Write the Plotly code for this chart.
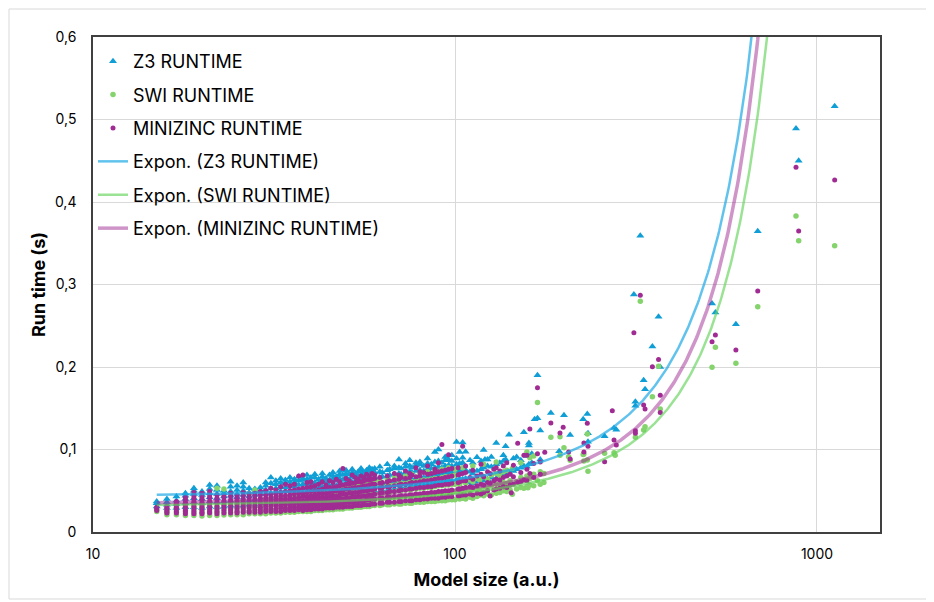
import numpy as np
import plotly.graph_objects as go

# ---------------- data (model size, [run times]) ----------------
Z3_COLUMNS = [
    (15, [0.031, 0.035, 0.037]), (16, [0.029, 0.033, 0.036, 0.040]), (17, [0.029, 0.034, 0.038, 0.043]),
    (18, [0.030, 0.035, 0.040, 0.044, 0.047]), (19, [0.030, 0.036, 0.041, 0.046, 0.050, 0.053]),
    (20, [0.029, 0.035, 0.040, 0.045, 0.049]), (21, [0.031, 0.037, 0.042, 0.047, 0.052, 0.057]),
    (22, [0.030, 0.036, 0.041, 0.046, 0.051, 0.056]), (23, [0.031, 0.037, 0.043, 0.047, 0.050]),
    (24, [0.032, 0.038, 0.044, 0.049, 0.055, 0.061]), (25, [0.031, 0.037, 0.042, 0.046, 0.051, 0.056]),
    (26, [0.032, 0.039, 0.045, 0.050, 0.055, 0.060]), (27, [0.033, 0.038, 0.043, 0.048, 0.053]),
    (28, [0.032, 0.039, 0.045, 0.049, 0.052]), (29, [0.033, 0.040, 0.046, 0.050, 0.054]),
    (30, [0.034, 0.041, 0.046, 0.051, 0.056, 0.060]), (31, [0.034, 0.041, 0.047, 0.053, 0.059, 0.066]),
    (32, [0.035, 0.042, 0.048, 0.053, 0.058, 0.062]), (33, [0.035, 0.042, 0.049, 0.055, 0.060, 0.065]),
    (34, [0.036, 0.043, 0.049, 0.054, 0.059, 0.063]), (35, [0.036, 0.044, 0.050, 0.056, 0.061, 0.066]),
    (36, [0.037, 0.044, 0.050, 0.055, 0.060, 0.064]), (37, [0.037, 0.045, 0.051, 0.057, 0.062, 0.067]),
    (38, [0.038, 0.045, 0.052, 0.058, 0.063, 0.065]), (39, [0.038, 0.046, 0.053, 0.059, 0.064, 0.069]),
    (40, [0.039, 0.046, 0.052, 0.057, 0.061, 0.066]), (41, [0.039, 0.047, 0.054, 0.060, 0.066, 0.070]),
    (42, [0.040, 0.047, 0.053, 0.059, 0.064]), (43, [0.040, 0.048, 0.055, 0.062, 0.067, 0.071]),
    (44, [0.041, 0.048, 0.054, 0.060, 0.065]), (45, [0.041, 0.049, 0.056, 0.063, 0.069]),
    (46, [0.042, 0.050, 0.057, 0.064, 0.068, 0.072]), (47, [0.042, 0.050, 0.056, 0.062, 0.067]),
    (48, [0.043, 0.051, 0.058, 0.065, 0.070, 0.074]), (49, [0.043, 0.051, 0.057, 0.063, 0.069]),
    (50, [0.044, 0.052, 0.059, 0.066, 0.071, 0.075]), (51, [0.044, 0.052, 0.058, 0.064, 0.070]),
    (52, [0.045, 0.053, 0.060, 0.067, 0.072, 0.076]), (53, [0.045, 0.053, 0.061, 0.066, 0.071]),
    (54, [0.046, 0.054, 0.060, 0.068, 0.073]), (55, [0.046, 0.055, 0.062, 0.069, 0.074, 0.077]),
    (56, [0.047, 0.055, 0.061, 0.067, 0.072]), (57, [0.047, 0.056, 0.063, 0.070, 0.075]),
    (58, [0.048, 0.056, 0.064, 0.069, 0.074, 0.078]), (59, [0.048, 0.057, 0.063, 0.071, 0.076]),
    (60, [0.049, 0.058, 0.065, 0.072, 0.077]), (62, [0.049, 0.058, 0.066, 0.073, 0.079]),
    (63, [0.050, 0.059, 0.067, 0.072]), (65, [0.050, 0.060, 0.068, 0.075, 0.082]),
    (66, [0.051, 0.060, 0.069, 0.076]), (68, [0.052, 0.061, 0.070, 0.077, 0.080]),
    (70, [0.052, 0.062, 0.071, 0.078, 0.088]), (71, [0.053, 0.062, 0.070, 0.077]),
    (73, [0.054, 0.063, 0.072, 0.079, 0.083]), (75, [0.054, 0.064, 0.073, 0.080, 0.087]),
    (76, [0.055, 0.064, 0.072, 0.078]), (78, [0.056, 0.065, 0.074, 0.081, 0.084]),
    (80, [0.056, 0.066, 0.075, 0.082, 0.085]), (82, [0.057, 0.066, 0.074, 0.080]),
    (84, [0.058, 0.067, 0.076, 0.083, 0.089]), (86, [0.058, 0.068, 0.077, 0.082]),
    (88, [0.059, 0.069, 0.078, 0.085, 0.097]), (90, [0.060, 0.069, 0.079, 0.086, 0.100]),
    (92, [0.060, 0.070, 0.078, 0.084]), (94, [0.061, 0.071, 0.080, 0.087, 0.091]),
    (96, [0.062, 0.072, 0.081, 0.088]), (98, [0.062, 0.072, 0.080, 0.086, 0.093]),
    (101, [0.063, 0.073, 0.082, 0.089, 0.109]), (103, [0.064, 0.074, 0.083, 0.097]),
    (105, [0.064, 0.074, 0.084, 0.090, 0.1085]), (107, [0.065, 0.075, 0.0974]),
    (110, [0.060, 0.073, 0.087]), (112, [0.059, 0.071, 0.084]), (115, [0.061, 0.074, 0.0905]),
    (118, [0.063, 0.076, 0.086]), (120, [0.062, 0.078, 0.0994]), (121, [0.088]),
    (123, [0.064, 0.080, 0.088]), (126, [0.066, 0.079, 0.091]), (130, [0.065, 0.082, 0.108]),
    (133, [0.068, 0.084]), (136, [0.070, 0.086, 0.093]), (138, [0.069, 0.088, 0.104]),
    (141, [0.072, 0.118]), (145, [0.074, 0.089]), (148, [0.076, 0.091]), (152, [0.078, 0.087]),
    (155, [0.080, 0.121]), (158, [0.079, 0.092]), (160, [0.082, 0.105, 0.108]), (163, [0.084, 0.095]),
    (166, [0.1366]), (169, [0.1378, 0.190]), (172, [0.123, 0.088]), (184, [0.1442]), (194, [0.0978]),
    (200, [0.1414]), (208, [0.1176]), (226, [0.1366]), (232, [0.143]), (233, [0.1095, 0.1196]),
    (259, [0.116]), (275, [0.126]), (279, [0.124]), (312, [0.288]), (315, [0.158, 0.153]),
    (325, [0.359]), (332, [0.184]), (335, [0.173]), (351, [0.225]), (365, [0.261]), (369, [0.200]),
    (513, [0.277]), (524, [0.266]), (597, [0.2517]), (686, [0.3645]), (875, [0.489]),
    (890, [0.450]), (1119, [0.516]),
]

SWI_COLUMNS = [
    (15, [0.025, 0.027]), (16, [0.021, 0.024, 0.027]), (17, [0.021, 0.024, 0.027, 0.030]),
    (18, [0.020, 0.023, 0.026, 0.030, 0.033]), (19, [0.020, 0.023, 0.027, 0.030, 0.034]),
    (20, [0.0195, 0.023, 0.026, 0.030, 0.033]), (21, [0.020, 0.023, 0.027, 0.031, 0.035]),
    (22, [0.020, 0.024, 0.028, 0.031, 0.053]), (23, [0.0205, 0.024, 0.028, 0.032, 0.052]),
    (24, [0.021, 0.024, 0.028, 0.032, 0.036]), (25, [0.021, 0.025, 0.029, 0.033, 0.037]),
    (26, [0.021, 0.025, 0.029, 0.033, 0.038]), (27, [0.022, 0.025, 0.030, 0.034, 0.046]),
    (28, [0.022, 0.026, 0.030, 0.035, 0.051]), (29, [0.022, 0.026, 0.031, 0.035, 0.039]),
    (30, [0.022, 0.026, 0.031, 0.036, 0.040]), (31, [0.023, 0.027, 0.032, 0.036, 0.041]),
    (32, [0.023, 0.027, 0.032, 0.037, 0.048]), (33, [0.023, 0.028, 0.033, 0.038, 0.042]),
    (34, [0.024, 0.028, 0.033, 0.038, 0.043]), (35, [0.024, 0.029, 0.034, 0.039, 0.044]),
    (36, [0.024, 0.029, 0.034, 0.039, 0.045]), (37, [0.025, 0.029, 0.035, 0.040, 0.046]),
    (38, [0.025, 0.030, 0.035, 0.041, 0.046]), (39, [0.025, 0.030, 0.036, 0.041, 0.047]),
    (40, [0.025, 0.031, 0.036, 0.042, 0.048]), (41, [0.026, 0.031, 0.037, 0.043, 0.049]),
    (42, [0.026, 0.031, 0.037, 0.043, 0.050]), (43, [0.026, 0.032, 0.038, 0.044, 0.051]),
    (44, [0.027, 0.032, 0.038, 0.045, 0.051]), (45, [0.027, 0.033, 0.039, 0.045, 0.052]),
    (46, [0.027, 0.033, 0.039, 0.046, 0.053]), (47, [0.028, 0.034, 0.040, 0.046, 0.053]),
    (48, [0.028, 0.034, 0.040, 0.047, 0.054]), (49, [0.028, 0.034, 0.041, 0.048, 0.055]),
    (50, [0.029, 0.035, 0.041, 0.048, 0.055]), (51, [0.029, 0.035, 0.042, 0.049, 0.056]),
    (52, [0.029, 0.036, 0.042, 0.049, 0.057]), (53, [0.030, 0.036, 0.043, 0.050, 0.057]),
    (54, [0.030, 0.036, 0.043, 0.051, 0.058]), (55, [0.030, 0.037, 0.044, 0.051, 0.059]),
    (56, [0.031, 0.037, 0.044, 0.052, 0.059]), (57, [0.031, 0.038, 0.045, 0.052, 0.060]),
    (58, [0.031, 0.038, 0.045, 0.053, 0.061]), (59, [0.032, 0.039, 0.046, 0.054, 0.061]),
    (60, [0.032, 0.039, 0.046, 0.054, 0.062]), (62, [0.032, 0.039, 0.047, 0.055, 0.062]),
    (63, [0.033, 0.040, 0.047, 0.055]), (65, [0.033, 0.040, 0.048, 0.056, 0.064]),
    (66, [0.033, 0.041, 0.048, 0.057]), (68, [0.034, 0.041, 0.049, 0.057, 0.066]),
    (70, [0.034, 0.042, 0.050, 0.058, 0.063]), (71, [0.034, 0.042, 0.050, 0.059]),
    (73, [0.035, 0.043, 0.051, 0.059, 0.068]), (75, [0.035, 0.043, 0.051, 0.060]),
    (76, [0.035, 0.043, 0.052, 0.061, 0.070]), (78, [0.036, 0.044, 0.052, 0.061]),
    (80, [0.036, 0.044, 0.053, 0.062, 0.071]), (82, [0.036, 0.045, 0.053, 0.063]),
    (84, [0.037, 0.045, 0.054, 0.063, 0.073]), (86, [0.037, 0.046, 0.054, 0.064]),
    (88, [0.037, 0.046, 0.055, 0.065, 0.075]), (90, [0.038, 0.047, 0.056, 0.065]),
    (92, [0.038, 0.047, 0.056, 0.066, 0.076]), (94, [0.038, 0.047, 0.057, 0.067]),
    (96, [0.039, 0.048, 0.057, 0.067, 0.078]), (98, [0.039, 0.048, 0.058, 0.068]),
    (100, [0.039, 0.049, 0.058, 0.069, 0.076]), (103, [0.040, 0.050, 0.058]),
    (105, [0.041, 0.049, 0.062, 0.078]), (107, [0.040, 0.051, 0.059]), (110, [0.042, 0.050, 0.063]),
    (112, [0.041, 0.052, 0.061, 0.080]), (115, [0.043, 0.053, 0.065]), (117, [0.045, 0.051, 0.063]),
    (120, [0.044, 0.055, 0.067, 0.082]), (123, [0.046, 0.054, 0.064]), (126, [0.045, 0.056, 0.069]),
    (130, [0.047, 0.058, 0.071, 0.085]), (133, [0.048, 0.057, 0.068]), (136, [0.050, 0.060, 0.073]),
    (139, [0.049, 0.059, 0.075]), (142, [0.051, 0.062]), (144, [0.0457, 0.077]), (148, [0.052, 0.061]),
    (152, [0.054, 0.066, 0.084]), (155, [0.053, 0.063]), (158, [0.055, 0.068, 0.097]), (159, [0.0537]),
    (161, [0.057, 0.065, 0.090]), (165, [0.056, 0.070, 0.092]), (169, [0.157, 0.062]),
    (172, [0.058, 0.073]), (176, [0.060, 0.071]), (184, [0.1148]), (195, [0.1155, 0.093]),
    (200, [0.102]), (206, [0.0913]), (208, [0.087]), (226, [0.094]), (227, [0.0945, 0.086]),
    (232, [0.1188, 0.0873]), (233, [0.0735]), (259, [0.0954]), (275, [0.096]), (277, [0.093]),
    (315, [0.1148]), (325, [0.2796]), (332, [0.1236]), (335, [0.1277]), (351, [0.164]), (365, [0.201]),
    (369, [0.149]), (513, [0.1996]), (524, [0.2238]), (597, [0.2044]), (686, [0.273]), (875, [0.383]),
    (890, [0.353]), (1119, [0.347]),
]

MINIZINC_COLUMNS = [
    (15, [0.026, 0.028, 0.030]), (16, [0.023, 0.025, 0.027, 0.029, 0.031]),
    (17, [0.023, 0.025, 0.028, 0.030, 0.033, 0.035, 0.037]),
    (18, [0.022, 0.025, 0.027, 0.030, 0.033, 0.036, 0.039, 0.042]),
    (19, [0.022, 0.025, 0.028, 0.031, 0.034, 0.037, 0.040, 0.043, 0.048]),
    (20, [0.022, 0.024, 0.027, 0.030, 0.033, 0.036, 0.039, 0.042, 0.047]),
    (21, [0.023, 0.025, 0.028, 0.031, 0.034, 0.037, 0.041, 0.044, 0.049]),
    (22, [0.022, 0.025, 0.028, 0.031, 0.035, 0.038, 0.041, 0.045]),
    (23, [0.023, 0.026, 0.029, 0.032, 0.035, 0.038, 0.042, 0.044]),
    (24, [0.023, 0.026, 0.029, 0.032, 0.036, 0.039, 0.043, 0.047]),
    (25, [0.023, 0.025, 0.028, 0.031, 0.034, 0.038, 0.041, 0.044]),
    (26, [0.024, 0.027, 0.030, 0.033, 0.036, 0.040, 0.044, 0.048]),
    (27, [0.024, 0.026, 0.029, 0.032, 0.035, 0.039, 0.042, 0.046]),
    (28, [0.024, 0.027, 0.030, 0.033, 0.037, 0.040, 0.044, 0.047]),
    (29, [0.024, 0.027, 0.030, 0.034, 0.037, 0.041, 0.045, 0.049]),
    (30, [0.025, 0.028, 0.031, 0.034, 0.038, 0.041, 0.045, 0.050]),
    (31, [0.025, 0.028, 0.031, 0.035, 0.038, 0.042, 0.046, 0.053]),
    (32, [0.025, 0.028, 0.032, 0.035, 0.039, 0.043, 0.047, 0.051]),
    (33, [0.025, 0.029, 0.032, 0.036, 0.040, 0.044, 0.048, 0.055]),
    (34, [0.026, 0.029, 0.033, 0.036, 0.040, 0.044, 0.049, 0.058]),
    (35, [0.026, 0.029, 0.033, 0.037, 0.041, 0.045, 0.050, 0.056]),
    (36, [0.026, 0.030, 0.034, 0.037, 0.041, 0.046, 0.051, 0.058]),
    (37, [0.027, 0.030, 0.034, 0.038, 0.042, 0.047, 0.052, 0.068]),
    (38, [0.026, 0.030, 0.034, 0.038, 0.043, 0.047, 0.053, 0.069]),
    (39, [0.027, 0.031, 0.035, 0.039, 0.043, 0.048, 0.054, 0.060]),
    (40, [0.027, 0.031, 0.035, 0.040, 0.044, 0.049, 0.055, 0.061]),
    (41, [0.028, 0.032, 0.036, 0.041, 0.045, 0.050, 0.056]),
    (42, [0.028, 0.032, 0.037, 0.041, 0.046, 0.051, 0.058]),
    (43, [0.028, 0.033, 0.037, 0.042, 0.047, 0.052, 0.061]),
    (44, [0.029, 0.033, 0.038, 0.042, 0.047, 0.053, 0.057]),
    (45, [0.029, 0.033, 0.038, 0.043, 0.048, 0.054, 0.062]),
    (46, [0.029, 0.034, 0.039, 0.044, 0.049, 0.054, 0.060]),
    (47, [0.030, 0.034, 0.039, 0.044, 0.050, 0.055, 0.064]),
    (48, [0.030, 0.035, 0.040, 0.045, 0.050, 0.056, 0.061]),
    (49, [0.030, 0.035, 0.040, 0.046, 0.051, 0.057, 0.077]),
    (50, [0.031, 0.036, 0.041, 0.046, 0.052, 0.058, 0.065]),
    (51, [0.031, 0.036, 0.041, 0.047, 0.052, 0.058, 0.062]),
    (52, [0.031, 0.036, 0.042, 0.047, 0.053, 0.059, 0.069]),
    (53, [0.032, 0.037, 0.042, 0.048, 0.054, 0.060, 0.066]),
    (54, [0.032, 0.037, 0.043, 0.048, 0.054, 0.061, 0.064]),
    (55, [0.032, 0.038, 0.043, 0.049, 0.055, 0.061, 0.068]),
    (56, [0.033, 0.038, 0.044, 0.050, 0.056, 0.062, 0.066]),
    (57, [0.033, 0.039, 0.044, 0.050, 0.056, 0.063, 0.070]),
    (58, [0.033, 0.039, 0.045, 0.051, 0.057, 0.063, 0.067]),
    (59, [0.034, 0.040, 0.045, 0.051, 0.058, 0.064, 0.071]),
    (60, [0.034, 0.040, 0.046, 0.052, 0.058, 0.065, 0.069]),
    (62, [0.035, 0.041, 0.047, 0.053, 0.059, 0.066]), (63, [0.035, 0.041, 0.048, 0.054, 0.060]),
    (65, [0.036, 0.042, 0.048, 0.055, 0.061, 0.068]), (66, [0.036, 0.042, 0.049, 0.055, 0.062]),
    (68, [0.036, 0.043, 0.049, 0.056, 0.063, 0.071]), (70, [0.037, 0.043, 0.050, 0.057, 0.064, 0.069]),
    (71, [0.037, 0.044, 0.051, 0.058, 0.066]), (73, [0.038, 0.044, 0.051, 0.058, 0.065, 0.074]),
    (75, [0.038, 0.045, 0.052, 0.059, 0.066, 0.071]), (76, [0.038, 0.045, 0.052, 0.060, 0.069]),
    (78, [0.039, 0.046, 0.053, 0.060, 0.067, 0.078]), (80, [0.039, 0.046, 0.054, 0.061, 0.068, 0.073]),
    (82, [0.040, 0.047, 0.054, 0.062, 0.072]), (84, [0.040, 0.047, 0.055, 0.062, 0.070, 0.080]),
    (86, [0.041, 0.048, 0.055, 0.063, 0.071]), (88, [0.041, 0.048, 0.056, 0.064, 0.072, 0.076]),
    (90, [0.041, 0.049, 0.057, 0.065, 0.073, 0.084]), (92, [0.042, 0.049, 0.057, 0.065, 0.074, 0.106]),
    (94, [0.042, 0.050, 0.058, 0.066, 0.075]), (96, [0.043, 0.050, 0.058, 0.067, 0.076, 0.0937]),
    (98, [0.043, 0.051, 0.059, 0.068, 0.077]), (102, [0.044, 0.052, 0.060, 0.069, 0.078]),
    (103, [0.044, 0.052, 0.061, 0.070]), (105, [0.045, 0.053, 0.062, 0.071, 0.104]),
    (107, [0.045, 0.054, 0.062, 0.072, 0.080]), (110, [0.046, 0.055, 0.066]),
    (112, [0.045, 0.054, 0.064, 0.075]), (115, [0.047, 0.056, 0.068]), (118, [0.046, 0.058, 0.070, 0.082]),
    (120, [0.048, 0.057, 0.067]), (123, [0.050, 0.060, 0.073]), (125, [0.0436, 0.059, 0.071]),
    (128, [0.051, 0.062, 0.076]), (130, [0.052, 0.064, 0.078]), (133, [0.053, 0.063, 0.074]),
    (136, [0.055, 0.066, 0.080]), (139, [0.054, 0.068, 0.084]), (142, [0.057, 0.070]), (143, [0.0476]),
    (145, [0.058, 0.067, 0.081]), (149, [0.060, 0.1075]), (152, [0.061, 0.072]), (155, [0.063, 0.093]),
    (158, [0.062, 0.093, 0.076]), (161, [0.125, 0.071]), (165, [0.066, 0.083]), (169, [0.175, 0.095]),
    (172, [0.070, 0.085]), (177, [0.0966]), (184, [0.132]), (195, [0.120]), (199, [0.127]),
    (206, [0.097]), (208, [0.0885]), (227, [0.108, 0.097]), (232, [0.1317]), (233, [0.104]),
    (259, [0.0852]), (272, [0.147]), (275, [0.1115]), (279, [0.1055]), (312, [0.2416]),
    (315, [0.1228, 0.1196]), (325, [0.287]), (332, [0.154]), (335, [0.149]), (351, [0.2004]),
    (365, [0.209]), (369, [0.1657, 0.145]), (513, [0.2307]), (524, [0.2388]), (597, [0.2206]),
    (686, [0.292]), (875, [0.442]), (890, [0.365]), (1119, [0.4267]),
]

# Exponential trendline parameters y = a * exp(b * x)
TREND_A = {"Z3": 0.0424, "SWI": 0.0308, "MINIZINC": 0.0333}
TREND_B = {"Z3": 0.00401, "SWI": 0.00408, "MINIZINC": 0.004207}

Y_TICKS = [0, 0.1, 0.2, 0.3, 0.4, 0.5, 0.6]
Y_TICK_TEXT = ["0", "0,1", "0,2", "0,3", "0,4", "0,5", "0,6"]
X_TICKS = [10, 100, 1000]
X_TICK_TEXT = ["10", "100", "1000"]


def flatten(columns):
    xs, ys = [], []
    for x, vals in columns:
        for v in vals:
            xs.append(x)
            ys.append(v)
    return xs, ys


FONT = "Inter"
fig = go.Figure()

series = [
    ("Z3 RUNTIME", Z3_COLUMNS, dict(symbol="triangle-up", size=7, color="#0F9ED5")),
    ("SWI RUNTIME", SWI_COLUMNS, dict(symbol="circle", size=5.5, color="#84D36C")),
    ("MINIZINC RUNTIME", MINIZINC_COLUMNS, dict(symbol="circle", size=5, color="#A02B93")),
]
for i, (name, cols, mk) in enumerate(series):
    xs, ys = flatten(cols)
    fig.add_trace(go.Scatter(x=xs, y=ys, mode="markers", name=name, marker=mk,
                             legendgroup=f"g{i}"))

trend_styles = [
    ("Z3", "Expon. (Z3 RUNTIME)", Z3_COLUMNS, "rgba(30,170,230,0.7)", 2.5),
    ("SWI", "Expon. (SWI RUNTIME)", SWI_COLUMNS, "rgba(100,210,90,0.65)", 2.5),
    ("MINIZINC", "Expon. (MINIZINC RUNTIME)", MINIZINC_COLUMNS, "rgba(160,43,147,0.5)", 3.5),
]
for j, (key, name, cols, color, w) in enumerate(trend_styles):
    xs, _ = flatten(cols)
    xt = np.geomspace(min(xs), max(xs), 600)
    yt = TREND_A[key] * np.exp(TREND_B[key] * xt)
    fig.add_trace(go.Scatter(x=xt, y=yt, mode="lines", name=name,
                             line=dict(color=color, width=w), legendgroup=f"t{j}"))

# page body has an 8 px margin: plot area lands at x 93..880, y 37..532 of the window
fig.update_layout(
    width=926, height=594,
    margin=dict(l=85, r=54, t=29, b=70),
    paper_bgcolor="white", plot_bgcolor="white",
    font=dict(family=FONT, size=14, color="#000000"),
    showlegend=True,
    legend=dict(x=0.0, y=0.988, xanchor="left", yanchor="top", bgcolor="rgba(255,255,255,0)",
                font=dict(family=FONT, size=18, color="#000000"), tracegroupgap=7),
    shapes=[dict(type="rect", xref="paper", yref="paper",
                 x0=(9 - 93) / 787, x1=(931 - 93) / 787, y0=(532 - 599) / 495, y1=(532 - 9) / 495,
                 line=dict(color="#D9D9D9", width=1), layer="below")],
)
fig.update_xaxes(type="log", range=[1, np.log10(1493)], tickvals=X_TICKS, ticktext=X_TICK_TEXT,
                 showgrid=True, gridcolor="#D9D9D9", gridwidth=1, zeroline=False,
                 showline=True, linecolor="#404040", linewidth=1.5, mirror=True,
                 ticks="", ticklabelstandoff=8, tickfont=dict(size=14, color="#000000"),
                 title=dict(text="<b>Model size (a.u.)</b>", font=dict(size=18, color="#000000"), standoff=13))
fig.update_yaxes(range=[0, 0.6], tickvals=Y_TICKS, ticktext=Y_TICK_TEXT,
                 showgrid=True, gridcolor="#D9D9D9", gridwidth=1, zeroline=False,
                 showline=True, linecolor="#404040", linewidth=1.5, mirror=True,
                 ticks="", ticklabelstandoff=12, tickfont=dict(size=14, color="#000000"),
                 title=dict(text="<b>Run time (s)</b>", font=dict(size=18, color="#000000"), standoff=5))

fig.write_html("out.html")
